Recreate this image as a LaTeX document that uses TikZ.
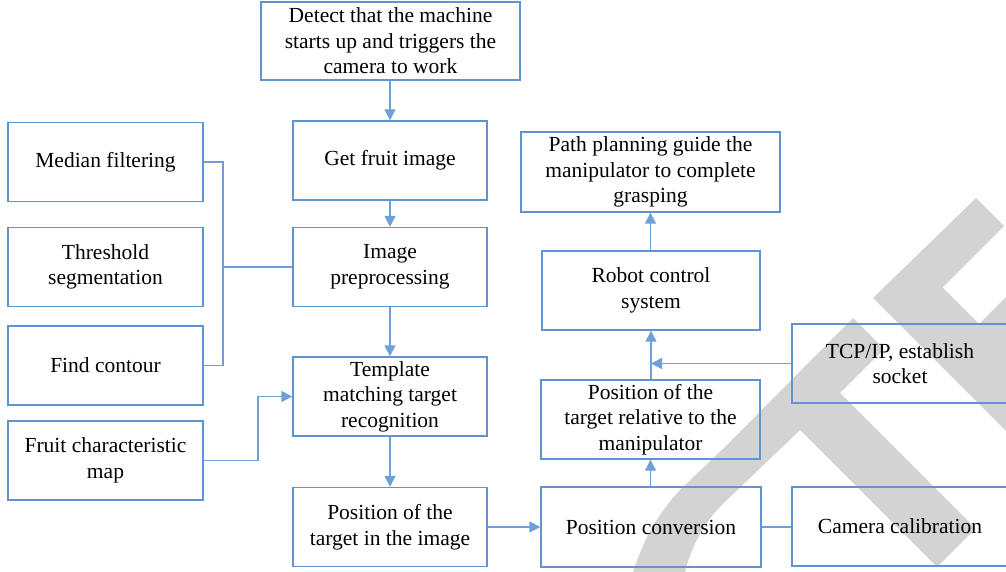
\documentclass[tikz,border=0pt]{standalone}
\usepackage{fontspec}
\setmainfont{Liberation Serif}
\usetikzlibrary{arrows.meta}
\definecolor{boxblue}{RGB}{95,148,208}
\definecolor{linkblue}{RGB}{110,160,215}
\definecolor{wmgray}{RGB}{211,211,211}
\tikzset{
  box/.style={draw=boxblue, line width=1.4pt, minimum width=194pt, minimum height=79pt,
    align=center, inner sep=0pt, font=\fontsize{21.5}{25.5}\selectfont},
  link/.style={draw=linkblue, line width=1.4pt},
  arr/.style={link, -{Triangle[length=11pt,width=11pt]}},
}
\begin{document}
\begin{tikzpicture}[x=1pt,y=-1pt]
\useasboundingbox (0,0) rectangle (1006,572);
% watermark
\fill[wmgray] (633,572) .. controls (645,535) and (662,508) .. (683,487) -- (727,445)
  -- (853,318) -- (884,349) -- (840,393) -- (975.5,528.5) -- (937,567)
  -- (800,430) -- (727,500) .. controls (710,515) and (693,540) .. (685,572) -- cycle;
\fill[wmgray] (873,298) -- (976,198) -- (1004,226) -- (942.5,287.5) -- (979,324)
  -- (1010,293) -- (1010,435) -- cycle;
% nodes
\node[box, minimum width=259pt, minimum height=78pt] (top) at (390.5,41) {Detect that the machine\\starts up and triggers the\\camera to work};
\node[box] (getimg) at (390,160.5) {Get fruit image};
\node[box] (prep) at (390,267) {Image\\preprocessing};
\node[box] (tmpl) at (390,396.5) {Template\\matching target\\recognition};
\node[box] (posimg) at (390,527) {Position of the\\target in the image};
\node[box, minimum width=195pt] (median) at (105.5,162) {Median filtering};
\node[box, minimum width=195pt] (thresh) at (105.5,267) {Threshold\\segmentation};
\node[box, minimum width=195pt] (contour) at (105.5,365.5) {Find contour};
\node[box, minimum width=195pt] (fmap) at (105.5,460.5) {Fruit characteristic\\map};
\node[box, minimum width=259pt, minimum height=80pt] (path) at (650.5,172) {Path planning guide the\\manipulator to complete\\grasping};
\node[box, minimum width=218pt] (robot) at (651,290.5) {Robot control\\system};
\node[box, minimum width=219pt] (posrel) at (650.5,419.5) {Position of the\\target relative to the\\manipulator};
\node[box, minimum width=220pt, minimum height=80pt] (posconv) at (651,527) {Position conversion};
\node[box, minimum width=216pt] (tcp) at (900,363.5) {TCP/IP, establish\\socket};
\node[box, minimum width=216pt] (cam) at (900,526.5) {Camera calibration};
% connectors
\draw[arr] (top.south -| getimg.north) -- (getimg.north);
\draw[arr] (getimg) -- (prep);
\draw[arr] (prep) -- (tmpl);
\draw[arr] (tmpl) -- (posimg);
\draw[arr] (posimg.east) -- (posimg.east -| posconv.west);
\draw[arr] (posconv.north -| posrel.south) -- (posrel.south);
\draw[arr] (posrel.north -| robot.south) -- (robot.south);
\draw[arr] (robot.north -| path.south) -- (path.south);
\coordinate (tcpend) at (651,0);
\draw[arr] (tcp.west) -- (tcp.west -| tcpend);
\draw[link] (posconv.east) -- (posconv.east -| cam.west);
\coordinate (brk) at (223,0);
\draw[link] (median.east) -- (median.east -| brk) -- (contour.east -| brk) -- (contour.east);
\draw[link] (prep.west -| brk) -- (prep.west);
\coordinate (fjog) at (258,0);
\draw[arr] (fmap.east) -- (fmap.east -| fjog) -- (tmpl.west -| fjog) -- (tmpl.west);
\end{tikzpicture}
\end{document}
